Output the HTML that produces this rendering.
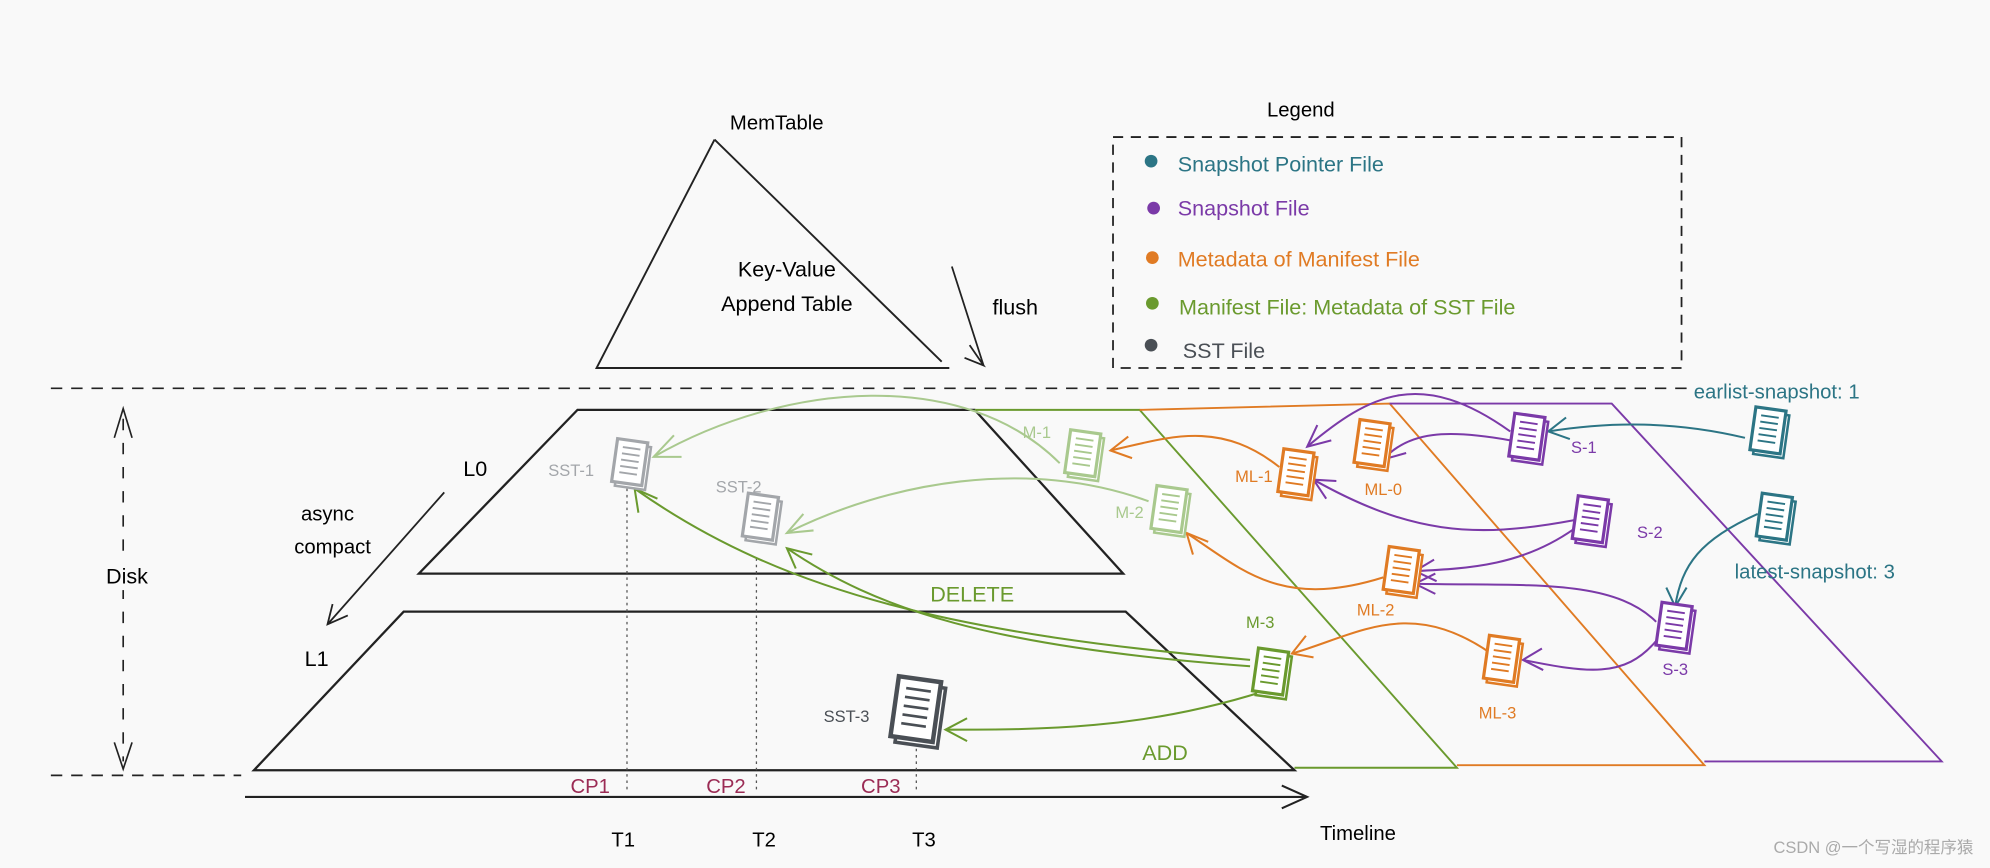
<!DOCTYPE html>
<html><head><meta charset="utf-8"><style>
html,body{margin:0;padding:0;background:#f9f9f9;}
svg{display:block;}
text{font-family:"Liberation Sans",sans-serif;}
</style></head><body>
<svg id="s" width="1990" height="868" viewBox="0 0 1568 684" xmlns="http://www.w3.org/2000/svg">
<defs>
<symbol id="doc" viewBox="-20 -25 40 50" overflow="visible">
<rect x="-11" y="-18" width="24" height="34" fill="#fff" stroke="currentColor" stroke-width="2" transform="translate(3,3)"/>
<rect x="-11" y="-18" width="24" height="34" fill="#fff" stroke="currentColor" stroke-width="2.5"/>
<path d="M-6 -12h14M-6 -7h14M-6 -2h14M-6 3h14M-6 8h14" stroke="currentColor" stroke-width="1.5"/>
</symbol>
</defs>
<rect width="1568" height="684" fill="#f9f9f9"/>

<path d="M40 306H1330" stroke="#222" stroke-width="1.3" stroke-dasharray="9 7"/>
<path d="M40 611H190" stroke="#222" stroke-width="1.3" stroke-dasharray="9 7"/>
<path d="M97 330V600" stroke="#222" stroke-width="1.3" stroke-dasharray="9 10"/>
<path d="M90 345L97 322L104 345M90 585L97 606L104 585" fill="none" stroke="#222" stroke-width="1.3"/>
<rect x="75" y="440" width="45" height="25" fill="#f9f9f9"/>
<text x="100" y="460" font-size="17" text-anchor="middle">Disk</text>

<text x="612" y="102" font-size="16" text-anchor="middle">MemTable</text>
<path d="M563 110L470 290H748M563 110L742 285" fill="none" stroke="#222" stroke-width="1.5"/>
<text x="620" y="218" font-size="17" text-anchor="middle">Key-Value</text>
<text x="620" y="245" font-size="17" text-anchor="middle">Append Table</text>
<path d="M750 210L775 288M764 272L775 288L760 282" fill="none" stroke="#222" stroke-width="1.4"/>
<text x="782" y="248" font-size="17">flush</text>

<text x="1025" y="92" font-size="16" text-anchor="middle">Legend</text>
<rect x="877" y="108" width="448" height="182" fill="none" stroke="#222" stroke-width="1.4" stroke-dasharray="8 6"/>
<circle cx="907" cy="127" r="5" fill="#2c7585"/><text x="928" y="135" font-size="17" fill="#2c7585">Snapshot Pointer File</text>
<circle cx="909" cy="164" r="5" fill="#7b3aa8"/><text x="928" y="170" font-size="17" fill="#7b3aa8">Snapshot File</text>
<circle cx="908" cy="203" r="5" fill="#e07b24"/><text x="928" y="210" font-size="17" fill="#e07b24">Metadata of Manifest File</text>
<circle cx="908" cy="239" r="5" fill="#6a9a2e"/><text x="929" y="248" font-size="17" fill="#6a9a2e">Manifest File: Metadata of SST File</text>
<circle cx="907" cy="272" r="5" fill="#4a4f55"/><text x="932" y="282" font-size="17" fill="#4a4f55">SST File</text>

<path d="M455 323H768L885 452H330Z" fill="none" stroke="#222" stroke-width="1.8"/>
<path d="M318 482H887L1020 607H200Z" fill="none" stroke="#222" stroke-width="1.8"/>
<path d="M768 323H898L1148 605H1020" fill="none" stroke="#6a9a2e" stroke-width="1.5"/>
<path d="M898 323L1095 318L1343 603H1148" fill="none" stroke="#e07b24" stroke-width="1.5"/>
<path d="M1095 318H1270L1530 600H1343" fill="none" stroke="#7b3aa8" stroke-width="1.5"/>
<text x="365" y="375" font-size="17">L0</text>
<text x="258" y="410" font-size="16" text-anchor="middle">async</text>
<text x="262" y="436" font-size="16" text-anchor="middle">compact</text>
<path d="M350 388L258 492M262 476L258 492L274 485" fill="none" stroke="#222" stroke-width="1.4"/>
<text x="240" y="525" font-size="17">L1</text>
<text x="766" y="474" font-size="17" fill="#6a9a2e" text-anchor="middle">DELETE</text>
<text x="918" y="599" font-size="17" fill="#6a9a2e" text-anchor="middle">ADD</text>

<path d="M193 628H1030M1010 619L1030 628L1010 637" fill="none" stroke="#222" stroke-width="1.6"/>
<text x="1070" y="662" font-size="16" text-anchor="middle">Timeline</text>
<path d="M494 385V625M596 440V625M722 590V625" stroke="#555" stroke-width="1" stroke-dasharray="2 3"/>
<g font-size="16" fill="#9b2c55" text-anchor="middle"><text x="465" y="625">CP1</text><text x="572" y="625">CP2</text><text x="694" y="625">CP3</text></g>
<g font-size="16" text-anchor="middle"><text x="491" y="667">T1</text><text x="602" y="667">T2</text><text x="728" y="667">T3</text></g>

<g fill="none" stroke-width="1.6">
<path d="M835 365C760 290 620 300 515 360" stroke="#a9c98e"/>
<path d="M905 395C810 360 700 380 620 420" stroke="#a9c98e"/>
<path d="M985 520C760 500 620 470 500 385" stroke="#6a9a2e"/>
<path d="M985 525C780 510 690 480 620 432" stroke="#6a9a2e"/>
<path d="M995 545C900 575 820 575 745 575" stroke="#6a9a2e"/>
<path d="M1008 368C960 330 920 345 875 355" stroke="#e07b24"/>
<path d="M1090 455C1010 480 980 450 935 420" stroke="#e07b24"/>
<path d="M1175 515C1110 470 1070 500 1018 515" stroke="#e07b24"/>
<path d="M1190 340C1120 290 1080 310 1030 352" stroke="#7b3aa8"/>
<path d="M1190 347C1140 338 1110 340 1090 362" stroke="#7b3aa8"/>
<path d="M1240 410C1160 425 1110 420 1035 378" stroke="#7b3aa8"/>
<path d="M1240 417C1200 445 1160 448 1115 450" stroke="#7b3aa8"/>
<path d="M1305 490C1270 455 1200 462 1115 460" stroke="#7b3aa8"/>
<path d="M1305 505C1280 535 1250 530 1200 520" stroke="#7b3aa8"/>
<path d="M1375 345C1320 332 1270 332 1220 340" stroke="#2c7585"/>
<path d="M1385 405C1340 425 1325 445 1320 478" stroke="#2c7585"/>
</g>
<!-- arrowheads: precomputed -->
<g fill="none" stroke-width="1.6">
<path d="M531 343L515 360L537 360" stroke="#a9c98e"/>
<path d="M633 405L620 420L641 418" stroke="#a9c98e"/>
<path d="M503 404L500 385L518 393" stroke="#6a9a2e"/>
<path d="M627 448L620 432L640 437" stroke="#6a9a2e"/>
<path d="M762 566L745 575L762 584" stroke="#6a9a2e"/>
<path d="M889 344L875 355L892 361" stroke="#e07b24"/>
<path d="M940 437L935 420L952 427" stroke="#e07b24"/>
<path d="M1029 501L1018 515L1035 518" stroke="#e07b24"/>
<path d="M1038 335L1030 352L1049 347" stroke="#7b3aa8"/>
<path d="M1097 345L1090 362L1108 357" stroke="#7b3aa8"/>
<path d="M1053 379L1035 378L1045 393" stroke="#7b3aa8"/>
<path d="M1130 441L1115 450L1132 458" stroke="#7b3aa8"/>
<path d="M1131 452L1115 460L1131 468" stroke="#7b3aa8"/>
<path d="M1215 511L1200 520L1216 528" stroke="#7b3aa8"/>
<path d="M1234 329L1220 340L1237 346" stroke="#2c7585"/>
<path d="M1313 463L1320 478L1329 463" stroke="#2c7585"/>
</g>

<use href="#doc" x="475" y="340" width="40" height="50" style="color:#a3a6aa" transform="rotate(8 495 365)"/>
<use href="#doc" x="578" y="383" width="40" height="50" style="color:#a3a6aa" transform="rotate(8 598 408)"/>
<use href="#doc" x="692" y="525" width="56" height="70" style="color:#4a4f55" transform="rotate(8 720 560)"/>
<use href="#doc" x="832" y="333" width="40" height="50" style="color:#a9c98e" transform="rotate(8 852 358)"/>
<use href="#doc" x="900" y="377" width="40" height="50" style="color:#a9c98e" transform="rotate(8 920 402)"/>
<use href="#doc" x="980" y="505" width="40" height="50" style="color:#6a9a2e" transform="rotate(8 1000 530)"/>
<use href="#doc" x="1000" y="348" width="40" height="50" style="color:#e07b24" transform="rotate(8 1020 373)"/>
<use href="#doc" x="1060" y="325" width="40" height="50" style="color:#e07b24" transform="rotate(8 1080 350)"/>
<use href="#doc" x="1083" y="425" width="40" height="50" style="color:#e07b24" transform="rotate(8 1103 450)"/>
<use href="#doc" x="1162" y="495" width="40" height="50" style="color:#e07b24" transform="rotate(8 1182 520)"/>
<use href="#doc" x="1182" y="320" width="40" height="50" style="color:#7b3aa8" transform="rotate(8 1202 345)"/>
<use href="#doc" x="1232" y="385" width="40" height="50" style="color:#7b3aa8" transform="rotate(8 1252 410)"/>
<use href="#doc" x="1298" y="469" width="40" height="50" style="color:#7b3aa8" transform="rotate(8 1318 494)"/>
<use href="#doc" x="1372" y="315" width="40" height="50" style="color:#2c7585" transform="rotate(8 1392 340)"/>
<use href="#doc" x="1377" y="383" width="40" height="50" style="color:#2c7585" transform="rotate(8 1397 408)"/>

<g font-size="13">
<text x="450" y="375" fill="#a3a6aa" text-anchor="middle">SST-1</text>
<text x="582" y="388" fill="#a3a6aa" text-anchor="middle">SST-2</text>
<text x="667" y="569" fill="#4a4f55" text-anchor="middle">SST-3</text>
<text x="817" y="345" fill="#a9c98e" text-anchor="middle">M-1</text>
<text x="890" y="408" fill="#a9c98e" text-anchor="middle">M-2</text>
<text x="993" y="495" fill="#6a9a2e" text-anchor="middle">M-3</text>
<text x="988" y="380" fill="#e07b24" text-anchor="middle">ML-1</text>
<text x="1090" y="390" fill="#e07b24" text-anchor="middle">ML-0</text>
<text x="1084" y="485" fill="#e07b24" text-anchor="middle">ML-2</text>
<text x="1180" y="566" fill="#e07b24" text-anchor="middle">ML-3</text>
<text x="1248" y="357" fill="#7b3aa8" text-anchor="middle">S-1</text>
<text x="1300" y="424" fill="#7b3aa8" text-anchor="middle">S-2</text>
<text x="1320" y="532" fill="#7b3aa8" text-anchor="middle">S-3</text>
</g>
<text x="1400" y="314" font-size="16" fill="#2c7585" text-anchor="middle">earlist-snapshot: 1</text>
<text x="1430" y="456" font-size="16" fill="#2c7585" text-anchor="middle">latest-snapshot: 3</text>
<text x="1555" y="672" font-size="13" fill="#aaa" text-anchor="end" font-family="'Liberation Sans','Noto Sans CJK SC',sans-serif">CSDN @一个写湿的程序猿</text>
</svg>
</body></html>
